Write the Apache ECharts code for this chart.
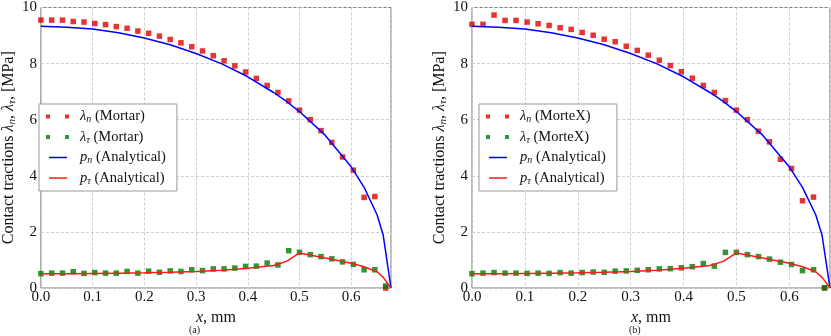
<!DOCTYPE html>
<html>
<head>
<meta charset="utf-8">
<script src="https://cdn.jsdelivr.net/npm/echarts@6/dist/echarts.min.js"></script>
<style>
  html, body { margin: 0; padding: 0; background: #fff; }
  #chart { width: 831px; height: 336px; }
</style>
</head>
<body>
<div id="chart"></div>
<script>
// x positions of the numerical nodes, mm
const xNodes = [0, 0.0208, 0.0417, 0.0625, 0.0833, 0.1042, 0.125, 0.1458, 0.1667, 0.1875,
  0.2083, 0.2292, 0.25, 0.2708, 0.2917, 0.3125, 0.3333, 0.3542, 0.375, 0.3958,
  0.4167, 0.4375, 0.4583, 0.4792, 0.5, 0.5208, 0.5417, 0.5625, 0.5833, 0.6042,
  0.625, 0.6458, 0.6667];

// (a) Mortar
const lamNMortar = [9.55, 9.55, 9.55, 9.50, 9.48, 9.43, 9.39, 9.32, 9.26, 9.16,
  9.08, 8.98, 8.86, 8.74, 8.60, 8.45, 8.28, 8.10, 7.92, 7.70,
  7.47, 7.22, 6.97, 6.67, 6.34, 6.00, 5.61, 5.19, 4.67, 4.20,
  3.23, 3.26, 0.0];
const lamTMortar = [0.51, 0.53, 0.53, 0.58, 0.52, 0.55, 0.53, 0.53, 0.59, 0.53,
  0.60, 0.56, 0.61, 0.59, 0.65, 0.62, 0.68, 0.68, 0.71, 0.77,
  0.78, 0.89, 0.82, 1.33, 1.27, 1.19, 1.12, 1.04, 0.93, 0.84,
  0.65, 0.65, 0.07];

// (b) MorteX
const lamNMortex = [9.40, 9.40, 9.73, 9.54, 9.54, 9.48, 9.42, 9.36, 9.28, 9.22,
  9.11, 9.01, 8.87, 8.78, 8.62, 8.47, 8.30, 8.12, 7.93, 7.71,
  7.48, 7.22, 6.97, 6.68, 6.34, 6.00, 5.59, 5.21, 4.59, 4.26,
  3.11, 3.24, 0.0];
const lamTMortex = [0.51, 0.53, 0.55, 0.53, 0.53, 0.52, 0.53, 0.52, 0.55, 0.53,
  0.55, 0.57, 0.56, 0.60, 0.61, 0.63, 0.65, 0.68, 0.69, 0.72,
  0.76, 0.87, 0.78, 1.27, 1.27, 1.19, 1.12, 1.03, 0.92, 0.84,
  0.62, 0.65, 0.01];

// analytical solution (same in both panels)
const xAnalytic = [0, 0.05, 0.1, 0.15, 0.2, 0.25, 0.3, 0.35, 0.4, 0.45,
  0.475, 0.5, 0.55, 0.6, 0.625, 0.65, 0.662, 0.677];
const pN = [9.33, 9.30, 9.23, 9.10, 8.91, 8.67, 8.36, 7.99, 7.53, 6.97,
  6.65, 6.29, 5.44, 4.32, 3.59, 2.61, 1.88, 0];
const pT = [0.51, 0.51, 0.52, 0.53, 0.54, 0.56, 0.59, 0.63, 0.70, 0.80,
  0.95, 1.25, 1.07, 0.88, 0.76, 0.58, 0.38, 0];

const xTicks = [0, 0.1, 0.2, 0.3, 0.4, 0.5, 0.6];
const yTicks = [0, 2, 4, 6, 8, 10];

const pair = (xs, ys) => xs.map((x, i) => [x, ys[i]]);

const SERIF = '"Liberation Serif", "DejaVu Serif", serif';
const RED_M = '#e00000';
const GREEN_M = '#007a00';
const BLUE_L = '#0000ff';
const RED_L = '#ff1a1a';

const subRich = {
  it: { fontFamily: SERIF, fontStyle: 'italic', fontSize: 14.5, color: '#111' },
  sub: { fontFamily: SERIF, fontStyle: 'italic', fontSize: 10, color: '#111', verticalAlign: 'bottom', padding: [6, 0, 0, 0] },
  txt: { fontFamily: SERIF, fontSize: 14.5, color: '#111' }
};

function legendLabel(name) {
  const m = name.match(/^(λ|p)(n|τ) \((.*)\)$/);
  if (!m) return name;
  return '{it|' + m[1] + '}{sub|' + m[2] + '}{txt| (' + m[3] + ')}';
}

// two small squares, and a thin line (tiny corner dots keep the line thin)
const twoSquares = 'path://M0,0h4v4h-4z M19,0h4v4h-4z';
const thinLine = 'path://M3,1.3h18v1.4h-18z M0,0h0.01v0.01h-0.01z M23,4h-0.01v-0.01h0.01z';

function makeLegend(left, method) {
  return {
    orient: 'vertical',
    left: left,
    top: 104,
    padding: [5, 11, 5, 7],
    itemGap: 5,
    itemWidth: 23,
    itemHeight: 4,
    backgroundColor: '#fff',
    borderColor: '#999',
    borderWidth: 1,
    borderRadius: 0,
    selectedMode: false,
    formatter: legendLabel,
    textStyle: { fontFamily: SERIF, fontSize: 14.5, color: '#111', padding: [0, 0, 0, 6], rich: subRich },
    data: [
      { name: 'λn (' + method + ')', icon: twoSquares },
      { name: 'λτ (' + method + ')', icon: twoSquares },
      { name: 'pn (Analytical)', icon: thinLine },
      { name: 'pτ (Analytical)', icon: thinLine }
    ]
  };
}

function makeXAxis(idx) {
  return {
    type: 'value', gridIndex: idx, min: 0, max: 0.677, interval: 0.1,
    name: '{i|x}{t|, mm}', nameLocation: 'middle', nameGap: 10,
    nameTextStyle: {
      rich: {
        i: { fontFamily: SERIF, fontStyle: 'italic', fontSize: 16, color: '#111' },
        t: { fontFamily: SERIF, fontSize: 16, color: '#111' }
      }
    },
    axisLine: { show: false },
    axisTick: { show: false },
    axisLabel: {
      margin: 2, fontFamily: SERIF, fontSize: 15, color: '#111', showMaxLabel: false,
      formatter: v => (xTicks.indexOf(Math.round(v * 10) / 10) >= 0 ? v.toFixed(1) : '')
    },
    splitLine: { show: true, lineStyle: { color: '#cfcfcf', type: [3, 2], width: 1 } }
  };
}

function makeYAxis(idx) {
  return {
    type: 'value', gridIndex: idx, min: 0, max: 10, interval: 2,
    name: '{t|Contact tractions }{i|λ}{s|n}{t|, }{i|λ}{s|τ}{t|, [MPa]}',
    nameLocation: 'middle', nameGap: 20, nameRotate: 90,
    nameTextStyle: {
      rich: {
        t: { fontFamily: SERIF, fontSize: 16, color: '#111' },
        i: { fontFamily: SERIF, fontStyle: 'italic', fontSize: 16, color: '#111' },
        s: { fontFamily: SERIF, fontStyle: 'italic', fontSize: 11, color: '#111', verticalAlign: 'bottom', padding: [7, 0, 0, 0] }
      }
    },
    axisLine: { show: false },
    axisTick: { show: false },
    axisLabel: {
      margin: 4, fontFamily: SERIF, fontSize: 15, color: '#111',
      formatter: v => (yTicks.indexOf(v) >= 0 ? String(v) : '')
    },
    splitLine: { show: true, lineStyle: { color: '#cfcfcf', type: [3, 2], width: 1 } }
  };
}

function panelSeries(idx, method, lamN, lamT) {
  return [
    {
      name: 'λn (' + method + ')', type: 'scatter', xAxisIndex: idx, yAxisIndex: idx,
      symbol: 'rect', symbolSize: 5.5, itemStyle: { color: RED_M },
      data: pair(xNodes, lamN), z: 3
    },
    {
      name: 'λτ (' + method + ')', type: 'scatter', xAxisIndex: idx, yAxisIndex: idx,
      symbol: 'rect', symbolSize: 5.5, itemStyle: { color: GREEN_M },
      data: pair(xNodes, lamT), z: 3
    },
    {
      name: 'pn (Analytical)', type: 'line', xAxisIndex: idx, yAxisIndex: idx,
      symbol: 'none', color: BLUE_L, lineStyle: { color: BLUE_L, width: 1.5 },
      data: pair(xAnalytic, pN), z: 4
    },
    {
      name: 'pτ (Analytical)', type: 'line', xAxisIndex: idx, yAxisIndex: idx,
      symbol: 'none', color: RED_L, lineStyle: { color: RED_L, width: 1.5 },
      data: pair(xAnalytic, pT), z: 4
    }
  ];
}

const chart = echarts.init(document.getElementById('chart'), null, { renderer: 'canvas' });

chart.setOption({
  animation: false,
  backgroundColor: '#fff',
  grid: [
    { left: 33, top: 5, width: 358, height: 283, show: true, borderColor: '#777', borderWidth: 1, backgroundColor: 'transparent' },
    { left: 472, top: 5, width: 358, height: 283, show: true, borderColor: '#777', borderWidth: 1, backgroundColor: 'transparent' }
  ],
  legend: [makeLegend(39, 'Mortar'), makeLegend(479, 'MorteX')],
  xAxis: [makeXAxis(0), makeXAxis(1)],
  yAxis: [makeYAxis(0), makeYAxis(1)],
  graphic: [
    { type: 'text', left: 189, top: 325, style: { text: '(a)', fontFamily: SERIF, fontSize: 10, fill: '#222' } },
    { type: 'text', left: 629, top: 325, style: { text: '(b)', fontFamily: SERIF, fontSize: 10, fill: '#222' } }
  ],
  series: [].concat(
    panelSeries(0, 'Mortar', lamNMortar, lamTMortar),
    panelSeries(1, 'MorteX', lamNMortex, lamTMortex)
  )
});
</script>
</body>
</html>
